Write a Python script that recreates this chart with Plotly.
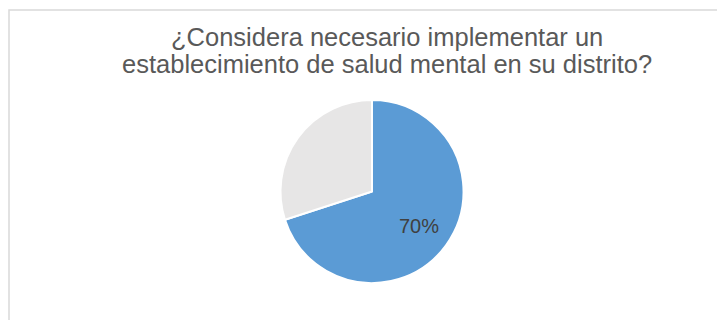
import math
import plotly.graph_objects as go

labels = ["Sí", "No"]
values = [70, 30]
show_label = [True, False]
colors = ["#5B9BD5", "#E7E6E6"]
title_lines = ["¿Considera necesario implementar un",
               "establecimiento de salud mental en su distrito?"]

W, H = 717, 320
# pie placement (pixels)
cx, cy, r = 372, 191.5, 91.5

fig = go.Figure(go.Pie(
    labels=labels,
    values=values,
    textinfo="none",
    sort=False,
    direction="clockwise",
    rotation=0,
    marker=dict(colors=colors, line=dict(color="white", width=2)),
    domain=dict(x=[(cx - r)/W, (cx + r)/W], y=[1-(cy + r)/H, 1-(cy - r)/H]),
    showlegend=False,
    hoverinfo="label+percent",
))

annotations = []
# title lines
for i, line in enumerate(title_lines):
    annotations.append(dict(text=line, xref="paper", yref="paper",
                            x=387/W, y=1-(37 + 27*i)/H, xanchor="center", yanchor="middle",
                            showarrow=False,
                            font=dict(family="Liberation Sans, Arial", size=25.5, color="#595959")))

# data labels at slice mid-angles
total = sum(values)
cum = 0
for v, show in zip(values, show_label):
    mid = (cum + v/2) / total * 2*math.pi
    cum += v
    if not show:
        continue
    px = cx + 0.64*r*math.sin(mid)
    py = cy - 0.64*r*math.cos(mid)
    annotations.append(dict(text=f"{round(100*v/total)}%", xref="paper", yref="paper",
                            x=px/W, y=1-py/H, xanchor="center", yanchor="middle",
                            showarrow=False,
                            font=dict(family="Liberation Sans, Arial", size=20, color="#404040")))

fig.update_layout(
    width=W, height=H,
    margin=dict(l=0, r=0, t=0, b=0),
    paper_bgcolor="white",
    plot_bgcolor="white",
    annotations=annotations,
    shapes=[dict(type="rect", xref="paper", yref="paper",
                 x0=9/W, x1=1.2, y0=-0.2, y1=1-10/H,
                 line=dict(color="#D9D9D9", width=1.5), fillcolor="rgba(0,0,0,0)")],
)

fig.write_html("out.html")
